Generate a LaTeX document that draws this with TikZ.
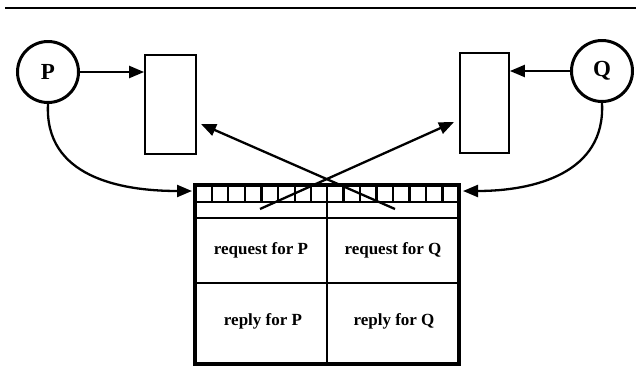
\documentclass[tikz,border=0pt]{standalone}
\usepackage{fontspec}
\setmainfont{Liberation Serif}
\usetikzlibrary{arrows.meta,positioning}

\begin{document}
\begin{tikzpicture}[
  x=1pt, y=-1pt,
  proc/.style={draw,circle,line width=3pt,minimum size=61pt,inner sep=0pt,
    font=\fontsize{23}{23}\selectfont\bfseries},
  buf/.style={draw,line width=1.8pt,inner sep=0pt},
  mbox/.style={draw,line width=3.2pt,inner sep=0pt,minimum width=264pt,minimum height=179pt},
  lbl/.style={font=\fontsize{17}{19}\selectfont\bfseries},
  arrow/.style={-{Triangle[length=15pt,width=12pt]},line width=2.3pt}
]
  \useasboundingbox (0,0) rectangle (638,370);
  \draw[line width=1.5pt] (5,8) -- (636,8);

  \node[proc] (P) at (48,72) {P};
  \node[proc] (Q) at (602,71) {Q};
  \node[buf, minimum width=51pt, minimum height=99pt] (bufP) at (170.5,104.5) {};
  \node[buf, minimum width=49pt, minimum height=100pt] (bufQ) at (484.5,103) {};
  \node[mbox] (box) at (327,274.5) {};

  % slots and halves of the mailbox
  \draw[line width=2.6pt] (box.north) -- (box.south);
  \draw[line width=2.2pt] (195,202) -- (459,202);
  \draw[line width=2.2pt] (195,218) -- (459,218);
  \draw[line width=2.2pt] (195,283) -- (459,283);
  \foreach \i in {1,...,7} {
    \draw[line width=2.2pt] (195+\i*16.6,185) -- ++(0,17);
    \draw[line width=2.2pt] (327+\i*16.5,185) -- ++(0,17);
  }

  \node[lbl] (reqP) at (261,250) {request for P};
  \node[lbl] (reqQ) at (393,250) {request for Q};
  \node[lbl] (repP) at (263,321) {reply for P};
  \node[lbl] (repQ) at (394,321) {reply for Q};

  \coordinate (inP) at (192,191);
  \coordinate (inQ) at (463,191);
  \coordinate (srcL) at (260,209);
  \coordinate (srcR) at (395,209);
  \coordinate (tipP) at (201,124);
  \coordinate (tipQ) at (454,122);

  \draw[arrow] (P) -- (P -| bufP.west);
  \draw[arrow] (Q) -- (Q -| bufQ.east);
  \draw[arrow] (P.south) to[out=-93,in=180,looseness=1.1] (inP);
  \draw[arrow] (Q.south) to[out=-87,in=0,looseness=1.1] (inQ);
  \draw[arrow] (srcR) -- (tipP);
  \draw[arrow] (srcL) -- (tipQ);
\end{tikzpicture}
\end{document}
